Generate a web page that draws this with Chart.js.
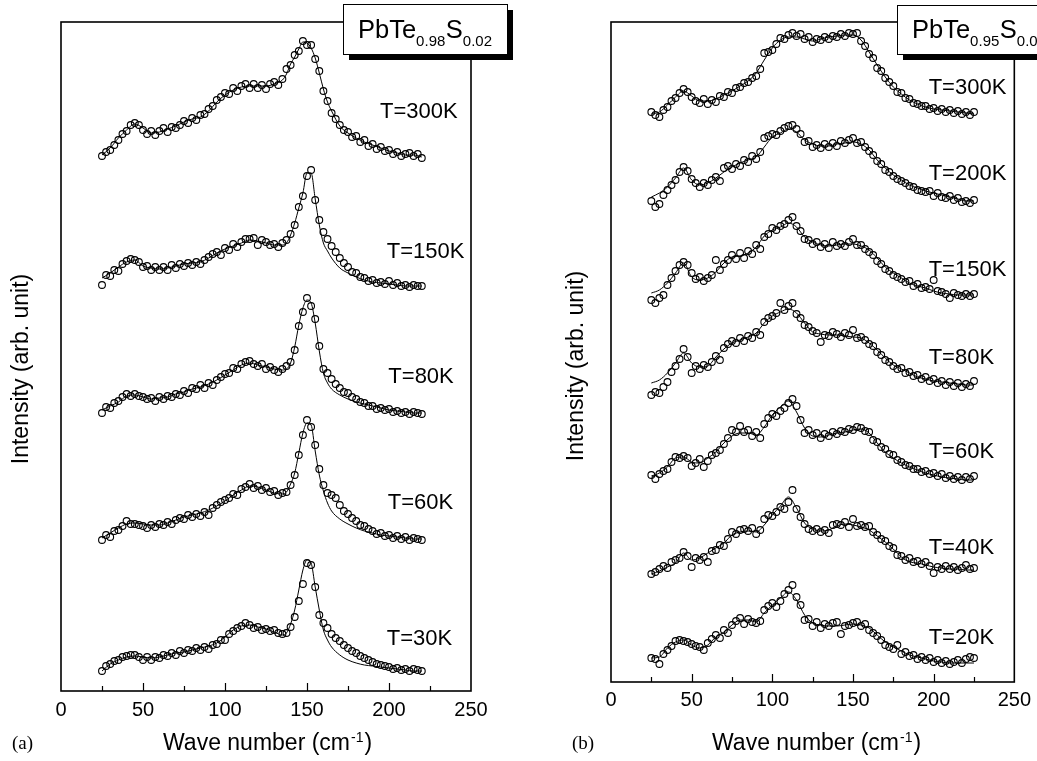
<!DOCTYPE html>
<html>
<head>
<meta charset="utf-8">
<script src="https://cdn.jsdelivr.net/npm/chart.js@4.4.0/dist/chart.umd.min.js"></script>
<style>
  html, body { margin: 0; padding: 0; background: #fff; }
  #wrap { position: relative; width: 1037px; height: 761px; overflow: hidden; background: #fff; }
  canvas { position: absolute; top: 0; }
  #chartA { left: 0; }
  #chartB { left: 520px; }
</style>
</head>
<body>
<div id="wrap">
  <canvas id="chartA" width="520" height="761"></canvas>
  <canvas id="chartB" width="517" height="761"></canvas>
</div>
<script>
// ---- axis / text ----
const tickValues = [0, 50, 100, 150, 200, 250];
const majorTicks = [50, 100, 150, 200];
const minorTicks = [25, 75, 125, 175, 225];
const xTitleParts = ['Wave number (cm', '-1', ')'];
const yTitle = 'Intensity (arb. unit)';

// ---- panel (a): PbTe0.98S0.02 ----
const formulaA = [['PbTe', false], ['0.98', true], ['S', false], ['0.02', true]];
const tempsA = ['T=300K', 'T=150K', 'T=80K', 'T=60K', 'T=30K'];

const waveA = [25,27.5,30,32.5,35,37.5,40,42.5,45,47.5,50,52.5,55,57.5,60,62.5,65,67.5,70,72.5,
  75,77.5,80,82.5,85,87.5,90,92.5,95,97.5,100,102.5,105,107.5,110,112.5,115,117.5,120,122.5,
  125,127.5,130,132.5,135,137.5,140,142.5,145,147.5,150,152.5,155,157.5,160,162.5,165,167.5,170,172.5,
  175,177.5,180,182.5,185,187.5,190,192.5,195,197.5,200,202.5,205,207.5,210,212.5,215,217.5,220];
const fitWaveA = [25,30,35,40,45,50,55,60,65,70,75,80,85,90,95,100,105,110,115,120,125,130,135,
  137.5,140,142.5,145,147.5,150,152.5,155,157.5,160,162.5,165,170,175,180,185,190,195,200,205,210,215,220];

const a300 = [535,539,541,546,551,557,560,566,568,566, 561,557,560,556,560,563,559,564,563,566,
  570,568,573,571,576,577,582,585,591,594, 598,597,603,600,605,607,603,607,603,606,
  602,607,609,606,612,622,626,636,640,650, 646,646,632,620,600,590,578,572,566,561,
  559,554,555,549,551,545,547,542,544,540, 541,537,539,535,537,538,535,537,533];
const a300fit = [536,543,553,561,567,563,558,559,562,565,569,572,574,580,589,596,601,604,605,605,605,607,611,
  617,627,634,642,649,648,643,633,618,602,589,580,565,558,553,549,546,543,540,538,536,536,534];

const a150 = [406,416,415,421,420,427,430,432,431,429, 424,425,421,424,421,424,421,426,423,427,
  425,428,426,429,427,431,434,437,439,436, 443,441,447,444,449,452,452,453,446,451,
  449,446,447,444,448,451,457,466,484,495, 515,521,491,471,459,452,445,439,433,428,
  424,419,418,414,413,410,411,408,409,407, 410,406,408,405,406,404,406,405,405];
const a150fit = [413,418,424,429,431,425,423,422,423,425,427,428,429,433,438,442,445,448,451,450,448,446,446,
  448,456,468,483,498,518,518,492,466,448,440,433,423,418,414,411,409,408,407,406,405,405,405];

const a80 = [278,284,283,288,290,294,297,295,297,295, 294,292,293,290,294,292,295,294,297,296,
  300,298,303,302,306,303,308,306,311,314, 317,318,323,322,327,329,330,327,325,327,
  322,324,321,319,322,325,329,341,365,379, 393,385,372,345,322,318,312,307,303,299,
  298,294,292,289,288,285,285,282,283,281, 282,279,280,278,279,277,279,278,277];
const a80fit = [281,285,289,295,296,294,292,293,294,297,299,302,304,307,311,316,321,326,328,326,324,322,321,
  322,328,344,366,383,391,388,368,340,318,308,302,296,292,289,287,285,283,281,280,279,278,278];

const a60 = [151,156,154,160,161,165,170,167,167,166, 165,163,166,164,167,166,169,167,171,173,
  172,176,174,177,175,179,176,183,186,189, 191,193,197,196,202,204,207,203,205,201,
  203,199,200,196,198,199,206,216,236,256, 271,264,246,222,206,198,196,193,186,180,
  177,173,170,166,165,162,160,157,158,155, 156,153,155,152,154,151,153,152,151];
const a60fit = [153,158,163,167,168,167,166,166,168,171,174,176,178,181,185,190,196,201,205,204,201,198,197,
  199,207,218,238,258,268,266,240,216,200,188,180,172,167,163,160,158,156,155,154,153,152,152];

const a30 = [20,25,27,30,31,34,35,36,36,34, 31,34,31,34,33,36,35,38,36,40,
  38,41,40,43,41,44,42,46,47,51, 51,57,60,63,65,68,66,63,64,61,
  62,60,61,58,57,58,64,74,90,107, 128,126,104,76,68,63,57,53,50,46,
  43,40,38,35,33,31,29,27,26,25, 24,22,23,21,22,20,22,21,20];
const a30fit = [20,27,31,34,35,34,33,34,36,38,39,41,43,45,48,54,61,65,66,64,62,59,56,
  58,67,81,101,121,131,128,104,81,61,51,44,36,31,28,26,25,24,23,22,21,20,20];

// ---- panel (b): PbTe0.95S0.05 ----
const formulaB = [['PbTe', false], ['0.95', true], ['S', false], ['0.05', true]];
const tempsB = ['T=300K', 'T=200K', 'T=150K', 'T=80K', 'T=60K', 'T=40K', 'T=20K'];

const waveB = [25,27.5,30,32.5,35,37.5,40,42.5,45,47.5,50,52.5,55,57.5,60,62.5,65,67.5,70,72.5,
  75,77.5,80,82.5,85,87.5,90,92.5,95,97.5,100,102.5,105,107.5,110,112.5,115,117.5,120,122.5,
  125,127.5,130,132.5,135,137.5,140,142.5,145,147.5,150,152.5,155,157.5,160,162.5,165,167.5,170,172.5,
  175,177.5,180,182.5,185,187.5,190,192.5,195,197.5,200,202.5,205,207.5,210,212.5,215,217.5,220,222.5,225];
const fitWaveB = [25,30,35,40,45,50,55,60,65,70,75,80,85,90,95,100,105,110,115,120,
  125,130,135,140,145,150,155,160,165,170,175,180,185,190,195,200,205,210,215,220,225];

const b300 = [570,567,565,572,575,581,584,589,593,590, 585,581,579,583,578,582,580,586,585,590,
  589,594,595,599,600,604,606,613,629,630, 632,638,644,643,647,649,646,648,643,645,
  640,643,642,645,643,646,645,648,646,649, 648,649,641,636,628,624,614,611,604,600,
  596,590,589,584,583,579,578,576,576,573, 574,571,573,570,572,569,571,568,570,567, 570];
const b300fit = [568,570,577,585,591,586,581,581,583,587, 591,596,601,609,622,634,642,645,645,643,
  641,643,645,646,647,647,642,630,617,605, 595,588,582,578,575,573,572,571,570,569, 568];

const b200 = [481,475,478,487,492,497,502,510,515,511, 503,499,495,499,497,502,505,501,514,516,
  513,518,516,522,520,526,523,530,544,546, 548,547,551,554,556,557,553,548,540,541,
  535,537,534,538,535,539,536,541,539,542, 544,539,540,535,531,527,521,518,512,510,
  506,503,501,499,496,495,492,491,490,491, 486,489,485,484,486,482,484,480,481,479, 482];
const b200fit = [485,489,495,504,514,502,497,499,504,510, 515,519,522,525,535,545,549,553,550,542,
  538,536,536,538,539,540,538,532,522,514, 507,502,497,494,491,489,487,485,483,481, 481];

const b150 = [382,379,384,387,397,404,411,417,420,417, 409,403,405,401,404,407,422,412,418,422,
  427,423,429,424,431,428,437,433,445,448, 454,452,456,458,462,465,456,451,443,442,
  438,440,435,438,434,440,436,438,436,440, 443,437,437,433,430,427,421,418,413,411,
  407,405,403,400,401,396,398,394,395,393, 402,391,390,388,384,389,387,386,388,386, 388];
const b150fit = [389,392,399,409,419,405,402,404,410,419, 425,426,429,435,446,452,455,459,455,445,
  440,437,436,437,438,438,436,432,424,415, 409,404,399,396,394,391,389,388,387,387, 387];

const b80 = [287,290,289,295,300,310,316,323,333,325, 309,316,313,317,315,320,326,322,334,338,
  341,339,344,341,346,344,350,347,360,364, 366,369,379,372,376,379,368,364,357,355,
  351,349,340,347,346,350,348,345,349,347, 352,344,345,342,338,336,330,327,322,320,
  316,313,314,309,310,306,307,303,305,301, 303,299,301,297,300,296,299,295,298,296, 301];
const b80fit = [299,302,309,319,329,319,315,316,325,333, 339,342,345,349,359,366,370,373,369,359,
  350,348,347,347,346,345,344,339,332,324, 317,313,309,305,303,301,300,299,298,297, 297];

const b60 = [207,203,208,211,213,220,225,224,226,224, 216,219,223,215,221,227,229,232,238,244,
  252,250,256,250,252,246,250,244,258,264, 268,266,271,274,279,283,276,262,249,252,
  247,249,244,248,246,250,248,251,250,253, 252,255,254,251,250,242,240,235,233,228,
  227,222,220,217,216,213,213,210,211,208, 209,206,208,204,206,203,205,202,205,203, 206];
const b60fit = [206,209,215,224,225,220,219,224,230,239, 246,249,249,247,255,267,275,281,270,254,
  246,245,247,249,250,252,253,249,239,230, 224,219,215,212,209,207,205,204,203,202, 202];

const b40 = [108,110,113,116,114,120,122,124,130,126, 115,124,122,125,120,131,132,137,136,143,
  150,148,152,153,151,154,148,152,163,167, 166,170,175,173,180,192,173,165,158,153,
  151,153,150,152,149,157,158,157,160,155, 163,156,157,155,156,150,147,143,141,136,
  134,127,126,122,124,120,121,118,120,116, 109,115,113,116,113,115,112,114,117,113, 114];
const b40fit = [108,111,115,119,129,122,124,129,134,139, 147,150,151,150,157,167,176,185,174,159,
  153,151,152,156,158,157,155,152,146,140, 133,125,120,119,117,115,114,113,113,112, 112];

const b20 = [24,23,18,28,32,36,41,42,41,40, 38,36,35,32,39,43,47,44,52,49,
  57,61,64,58,63,60,59,61,72,76, 79,75,81,88,92,97,85,77,62,63,
  56,60,54,58,56,59,60,48,56,57, 59,60,56,58,52,49,46,42,37,35,
  33,37,28,30,26,27,23,25,22,24, 20,22,19,21,18,20,22,19,23,25, 24];
const b20fit = [24,25,34,40,42,37,34,37,45,50, 57,62,62,60,69,77,84,90,82,67,
  59,57,56,56,57,58,57,54,47,40, 35,31,27,25,23,21,20,19,19,19, 19];

const FONT = '"Liberation Sans", Arial, Helvetica, sans-serif';

function buildPanel(canvasId, cfg) {
  const datasets = [];
  cfg.scatter.forEach((vals, i) => {
    datasets.push({
      data: cfg.wave.map((x, j) => ({ x: x, y: vals[j] })),
      showLine: false,
      pointRadius: 3.4,
      pointHoverRadius: 3.4,
      pointBorderWidth: 1.1,
      pointBorderColor: '#000',
      pointBackgroundColor: 'rgba(0,0,0,0)'
    });
    datasets.push({
      data: cfg.fitWave.map((x, j) => ({ x: x, y: cfg.fit[i][j] })),
      borderColor: '#000',
      borderWidth: 1,
      pointRadius: 0,
      fill: false,
      cubicInterpolationMode: 'monotone'
    });
  });

  const decor = {
    id: 'decor',
    afterDraw(chart) {
      const ctx = chart.ctx, ca = chart.chartArea;
      const xs = chart.scales.x, ys = chart.scales.y;
      ctx.save();
      // frame
      ctx.strokeStyle = '#000';
      ctx.lineWidth = 1.6;
      ctx.strokeRect(ca.left, ca.top, ca.right - ca.left, ca.bottom - ca.top);
      // inward ticks on the bottom axis
      ctx.lineWidth = 1.2;
      ctx.beginPath();
      majorTicks.forEach(v => {
        const p = Math.round(xs.getPixelForValue(v)) + 0.5;
        ctx.moveTo(p, ca.bottom); ctx.lineTo(p, ca.bottom - 8);
      });
      minorTicks.forEach(v => {
        const p = Math.round(xs.getPixelForValue(v)) + 0.5;
        ctx.moveTo(p, ca.bottom); ctx.lineTo(p, ca.bottom - 5);
      });
      ctx.stroke();
      // temperature labels
      ctx.fillStyle = '#000';
      ctx.font = '22px ' + FONT;
      ctx.textAlign = 'left';
      ctx.textBaseline = 'alphabetic';
      cfg.temps.forEach((t, i) => {
        const a = cfg.labelAt[i];
        ctx.fillText(t, xs.getPixelForValue(a[0]), ys.getPixelForValue(a[1]));
      });
      // sample box with shadow
      const b = cfg.box;
      ctx.fillStyle = '#000';
      ctx.fillRect(b.x + 6, b.y + 6, b.w, b.h);
      ctx.fillStyle = '#fff';
      ctx.fillRect(b.x, b.y, b.w, b.h);
      ctx.lineWidth = 1;
      ctx.strokeRect(b.x + 0.5, b.y + 0.5, b.w, b.h);
      ctx.fillStyle = '#000';
      let tx = b.tx;
      cfg.formula.forEach(([s, sub]) => {
        ctx.font = (sub ? '15px ' : '25.5px ') + FONT;
        ctx.fillText(s, tx, sub ? b.ty + 8 : b.ty);
        tx += ctx.measureText(s).width + (sub ? 0.5 : 0);
      });
      // y title
      ctx.save();
      ctx.translate(cfg.yTitleAt[0], cfg.yTitleAt[1]);
      ctx.rotate(-Math.PI / 2);
      ctx.font = '23px ' + FONT;
      ctx.textAlign = 'center';
      ctx.textBaseline = 'middle';
      ctx.fillText(yTitle, 0, 0);
      ctx.restore();
      // x title with superscript
      let x = cfg.xTitleAt[0];
      const yb = cfg.xTitleAt[1];
      ctx.font = '23px ' + FONT;
      ctx.fillText(xTitleParts[0], x, yb);
      x += ctx.measureText(xTitleParts[0]).width + 1;
      ctx.font = '14px ' + FONT;
      ctx.fillText(xTitleParts[1], x, yb - 8);
      x += ctx.measureText(xTitleParts[1]).width + 1;
      ctx.font = '23px ' + FONT;
      ctx.fillText(xTitleParts[2], x, yb);
      // panel letter
      ctx.font = '19px "Liberation Serif", "Times New Roman", serif';
      ctx.fillText(cfg.letter, cfg.letterAt[0], cfg.letterAt[1]);
      ctx.restore();
    }
  };

  return new Chart(document.getElementById(canvasId), {
    type: 'line',
    data: { datasets: datasets },
    options: {
      responsive: false,
      animation: false,
      devicePixelRatio: 1,
      layout: { padding: { left: cfg.padL, right: cfg.padR, top: 22, bottom: 0 } },
      plugins: { legend: { display: false }, tooltip: { enabled: false } },
      scales: {
        x: {
          type: 'linear',
          min: 0, max: 250,
          afterBuildTicks: s => { s.ticks = tickValues.map(v => ({ value: v })); },
          afterFit: s => { s.height = cfg.axisH; },
          ticks: { color: '#000', font: { family: FONT, size: 20 }, padding: cfg.tickPad, maxRotation: 0 },
          grid: { display: false, drawTicks: false },
          border: { display: false }
        },
        y: { display: false, min: 0, max: cfg.yMax }
      }
    },
    plugins: [decor]
  });
}

buildPanel('chartA', {
  wave: waveA, fitWave: fitWaveA,
  scatter: [a300, a150, a80, a60, a30],
  fit: [a300fit, a150fit, a80fit, a60fit, a30fit],
  temps: tempsA,
  labelAt: [[194.5, 573], [198.6, 433], [199.6, 308], [199.2, 182], [198.6, 46]],
  formula: formulaA,
  box: { x: 343, y: 4, w: 164, h: 50, tx: 358, ty: 38 },
  yTitleAt: [22, 369], xTitleAt: [163, 750],
  letter: '(a)', letterAt: [12, 749],
  padL: 61, padR: 49, axisH: 70, tickPad: 7, yMax: 669
});

buildPanel('chartB', {
  wave: waveB, fitWave: fitWaveB,
  scatter: [b300, b200, b150, b80, b60, b40, b20],
  fit: [b300fit, b200fit, b150fit, b80fit, b60fit, b40fit, b20fit],
  temps: tempsB,
  labelAt: [[196.9, 588], [196.9, 502], [196.9, 406], [196.9, 318], [196.9, 224], [196.9, 128], [196.9, 38]],
  formula: formulaB,
  box: { x: 377, y: 5, w: 200, h: 49, tx: 392, ty: 37.5 },
  yTitleAt: [57, 366], xTitleAt: [192, 750],
  letter: '(b)', letterAt: [52, 749],
  padL: 91, padR: 20, axisH: 79, tickPad: 6, yMax: 660
});
</script>
</body>
</html>
